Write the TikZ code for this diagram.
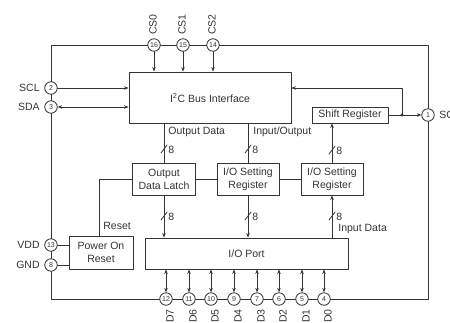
\documentclass[tikz,border=0pt]{standalone}
\usepackage{fontspec}
\setmainfont{Liberation Sans}
\usetikzlibrary{arrows.meta}

\begin{document}
\begin{tikzpicture}[x=1pt,y=-1pt,>={Stealth[length=4.5pt,width=3.5pt]}, font=\fontsize{10.5}{13}\selectfont, line join=round, line cap=round, line width=0.8pt, color=black!80,
	blk/.style={draw, rectangle, inner sep=0pt, align=center},
	pin/.style={draw, circle, fill=white, inner sep=0pt, minimum size=12.5pt, font=\fontsize{7}{7}\selectfont},
	txt/.style={anchor=west, inner sep=0pt}]
	\useasboundingbox (0,0) rectangle (450,322);
	% package outline
	\coordinate (tl) at (51,45);
	\coordinate (br) at (428,299);
	\draw (tl) rectangle (br);
	% blocks
	\node[blk, minimum width=162, minimum height=51] (bus) at (210,97.5) {I\textsuperscript{2}C Bus Interface};
	\node[blk, minimum width=76, minimum height=16] (shift) at (350,115) {Shift Register};
	\node[blk, minimum width=63, minimum height=32] (latch) at (164,179) {Output\\Data Latch};
	\node[blk, minimum width=62, minimum height=32] (iosetA) at (248,179) {I/O Setting\\Register};
	\node[blk, minimum width=62, minimum height=32] (iosetB) at (332,179) {I/O Setting\\Register};
	\node[blk, minimum width=64, minimum height=33] (por) at (101,252.5) {Power On\\Reset};
	\node[blk, minimum width=203, minimum height=31] (port) at (246.5,253.5) {I/O Port};
	% pins
	\node[pin, label={[rotate=90,anchor=west,label distance=1pt]north:CS0}] (p16) at (154,45) {16};
	\node[pin, label={[rotate=90,anchor=west,label distance=1pt]north:CS1}] (p15) at (183,45) {15};
	\node[pin, label={[rotate=90,anchor=west,label distance=1pt]north:CS2}] (p14) at (213,45) {14};
	\node[pin, label={[label distance=1pt]left:SCL}] (p2) at (51,88) {2};
	\node[pin, label={[label distance=1pt]left:SDA}] (p3) at (51,107) {3};
	\node[pin, label={[label distance=1pt]left:VDD}] (p13) at (51,245) {13};
	\node[pin, label={[label distance=1pt]left:GND}] (p8) at (51,265) {8};
	\node[pin, label={[label distance=1pt]right:SO}] (p1) at (428,115) {1};
	\node[pin, label={[rotate=90,anchor=east,label distance=4pt]south:D7}] (p12) at (166,299) {12};
	\node[pin, label={[rotate=90,anchor=east,label distance=4pt]south:D6}] (p11) at (189,299) {11};
	\node[pin, label={[rotate=90,anchor=east,label distance=4pt]south:D5}] (p10) at (211,299) {10};
	\node[pin, label={[rotate=90,anchor=east,label distance=4pt]south:D4}] (p9) at (234,299) {9};
	\node[pin, label={[rotate=90,anchor=east,label distance=4pt]south:D3}] (p7) at (257,299) {7};
	\node[pin, label={[rotate=90,anchor=east,label distance=4pt]south:D2}] (p6) at (279,299) {6};
	\node[pin, label={[rotate=90,anchor=east,label distance=4pt]south:D1}] (p5) at (302,299) {5};
	\node[pin, label={[rotate=90,anchor=east,label distance=4pt]south:D0}] (p4) at (324,299) {4};
	% connections
	\foreach \p in {16,15,14}
		\draw[->] (p\p) -- (p\p |- bus.north);
	\draw[->] (p2) -- (p2 -| bus.west);
	\draw[<->] (p3) -- (p3 -| bus.west);
	\draw (latch.north) -- (latch.north |- bus.south);
	\draw (iosetA.north) -- (iosetA.north |- bus.south);
	\draw[->] (iosetB.north) -- (iosetB.north |- shift.south);
	\draw (latch.east) -- (iosetA.west);
	\draw (iosetA.east) -- (iosetB.west);
	\draw (latch.west) -| ([xshift=-2pt]por.north);
	\draw (p13) -- (p13 -| por.west);
	\draw (p8) -- (p8 -| por.west);
	\draw[->] (latch.south) -- (latch.south |- port.north);
	\draw[->] (iosetA.south) -- (iosetA.south |- port.north);
	\draw[->] (iosetB.south |- port.north) -- (iosetB.south);
	\coordinate (tap) at (402,115);
	\draw[->] (shift.east) -- (p1);
	\fill (tap) circle (1.6);
	\draw[->] (tap) |- (bus.east |- p2);
	\foreach \p in {12,11,10,9,7,6,5,4}
		\draw[<->] (p\p) -- (p\p |- port.south);
	% bus widths
	\foreach \x/\y in {164/149,248/149,332/150,164/216,248/216,332/216}{
		\draw (\x-3,\y+4) -- (\x+3,\y-4);
		\node[txt] (w\x-\y) at (\x+4,\y+1) {8};
	}
	% signal names
	\node[txt] (od) at (168,132) {Output Data};
	\node[txt] (io) at (253,132) {Input/Output};
	\node[txt] (rst) at (103,226) {Reset};
	\node[txt] (id) at (338,229) {Input Data};
\end{tikzpicture}
\end{document}
